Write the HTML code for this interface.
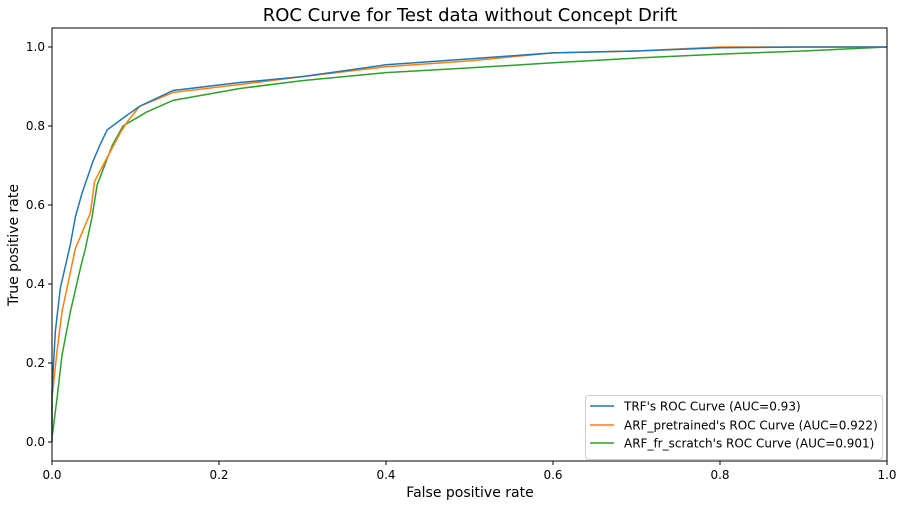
<!DOCTYPE html>
<html><head><meta charset="utf-8"><style>
body{margin:0;background:#fff;}
svg{display:block;font-family:"DejaVu Sans","Liberation Sans",sans-serif;}
</style></head><body>
<svg id="chart" width="904" height="507" viewBox="0 0 904 507">
<rect width="904" height="507" fill="#fff"/>
<text x="470" y="21" text-anchor="middle" font-size="18" fill="#000">ROC Curve for Test data without Concept Drift</text>
<g id="ticks"></g>
<g id="series"></g>
<rect x="52" y="28" width="835" height="433" fill="none" stroke="#000" stroke-width="1"/>
<text x="470" y="497" text-anchor="middle" font-size="14">False positive rate</text>
<text transform="translate(18,245) rotate(-90)" text-anchor="middle" font-size="14">True positive rate</text>
<g>
<rect x="585.5" y="395.5" width="297" height="64" rx="3" fill="#fff" fill-opacity="0.85" stroke="#ccc"/>
<line x1="590" y1="406" x2="614" y2="406" stroke="#1f77b4" stroke-width="1.5"/>
<text x="624" y="410.5" font-size="12">TRF's ROC Curve (AUC=0.93)</text>
<line x1="590" y1="425" x2="614" y2="425" stroke="#ff7f0e" stroke-width="1.5"/>
<text x="624" y="429.5" font-size="12">ARF_pretrained's ROC Curve (AUC=0.922)</text>
<line x1="590" y1="443" x2="614" y2="443" stroke="#2ca02c" stroke-width="1.5"/>
<text x="624" y="447.5" font-size="12">ARF_fr_scratch's ROC Curve (AUC=0.901)</text>
</g>
</svg>
<script>
const xTicks=[0,0.2,0.4,0.6,0.8,1.0];
const yTicks=[0,0.2,0.4,0.6,0.8,1.0];
const trfFpr=[0,0,0.004,0.01,0.022,0.028,0.036,0.049,0.057,0.066,0.085,0.105,0.145,0.225,0.3,0.4,0.5,0.6,0.7,0.8,0.9,1];
const trfTpr=[0,0.13,0.28,0.39,0.50,0.57,0.63,0.71,0.75,0.79,0.82,0.85,0.89,0.91,0.925,0.955,0.97,0.985,0.99,0.998,1,1];
const arfPreFpr=[0,0,0.006,0.012,0.019,0.028,0.046,0.051,0.066,0.081,0.09,0.105,0.145,0.225,0.3,0.4,0.5,0.6,0.7,0.8,0.9,1];
const arfPreTpr=[0,0.11,0.23,0.33,0.40,0.49,0.58,0.66,0.72,0.78,0.81,0.85,0.885,0.905,0.925,0.95,0.965,0.985,0.99,1,1,1];
const arfScrFpr=[0,0.006,0.012,0.022,0.034,0.04,0.048,0.054,0.072,0.085,0.113,0.145,0.225,0.3,0.4,0.5,0.6,0.7,0.8,0.9,1];
const arfScrTpr=[0.01,0.11,0.22,0.33,0.44,0.49,0.57,0.65,0.75,0.80,0.835,0.865,0.895,0.915,0.935,0.947,0.96,0.972,0.982,0.99,1];
const NS='http://www.w3.org/2000/svg';
function xs(v){return 52+v*835;}
function ys(v){return 442-v*395;}
const tg=document.getElementById('ticks');
xTicks.forEach(t=>{
  const l=document.createElementNS(NS,'line');
  l.setAttribute('x1',xs(t));l.setAttribute('x2',xs(t));l.setAttribute('y1',461);l.setAttribute('y2',465);l.setAttribute('stroke','#000');
  
  
  tg.appendChild(l);
  const tx=document.createElementNS(NS,'text');
  tx.setAttribute('x',xs(t));tx.setAttribute('y',479);tx.setAttribute('text-anchor','middle');tx.setAttribute('font-size','12');
  tx.textContent=t.toFixed(1);
  
  
  tg.appendChild(tx);
});
yTicks.forEach(t=>{
  const l=document.createElementNS(NS,'line');
  l.setAttribute('x1',48);l.setAttribute('x2',52);l.setAttribute('y1',ys(t));l.setAttribute('y2',ys(t));l.setAttribute('stroke','#000');
  
  
  tg.appendChild(l);
  const tx=document.createElementNS(NS,'text');
  tx.setAttribute('x',45);tx.setAttribute('y',ys(t)+4);tx.setAttribute('text-anchor','end');tx.setAttribute('font-size','12');
  tx.textContent=t.toFixed(1);
  
  
  tg.appendChild(tx);
});
const sg=document.getElementById('series');
function draw(f,t,color,name){
  const p=document.createElementNS(NS,'polyline');
  p.setAttribute('points',f.map((v,i)=>xs(v)+','+ys(t[i])).join(' '));
  p.setAttribute('fill','none');p.setAttribute('stroke',color);p.setAttribute('stroke-width','1.5');
  
  
  sg.appendChild(p);
}
draw(arfScrFpr,arfScrTpr,'#2ca02c','arf-scratch-roc-line');
draw(arfPreFpr,arfPreTpr,'#ff7f0e','arf-pretrained-roc-line');
draw(trfFpr,trfTpr,'#1f77b4','trf-roc-line');
</script>
</body></html>
